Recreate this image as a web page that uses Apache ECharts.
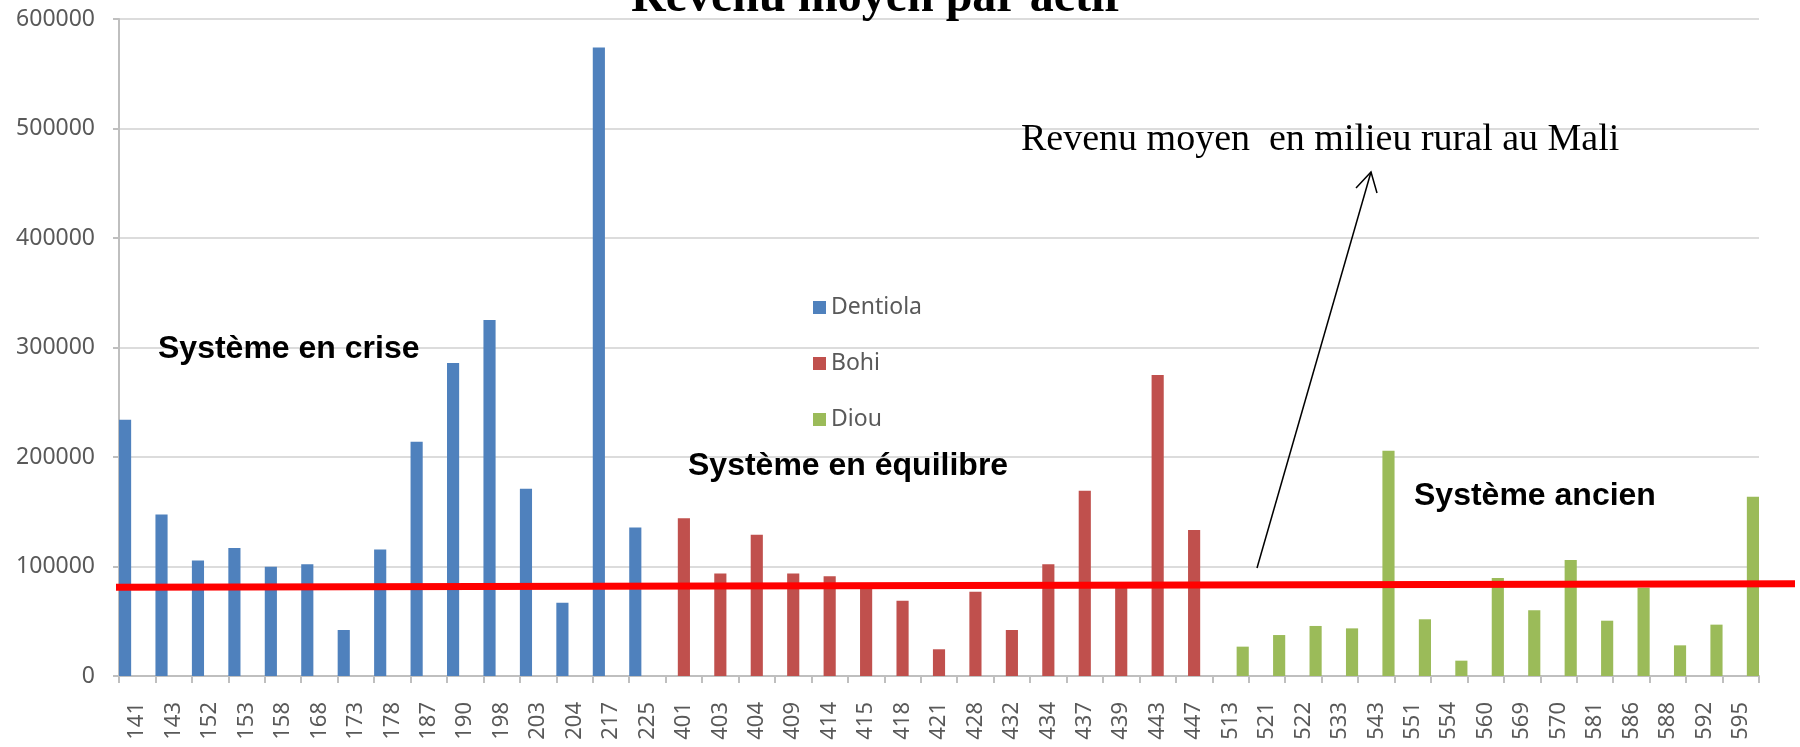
<!DOCTYPE html>
<html>
<head>
<meta charset="utf-8">
<script src="https://cdn.jsdelivr.net/npm/echarts@6/dist/echarts.min.js"></script>
<style>
html,body{margin:0;padding:0;background:#fff;}
#chart{width:1800px;height:747px;}
</style>
</head>
<body>
<div id="chart"></div>
<script>
// ---- data ----
var categories = ['141','143','152','153','158','168','173','178','187','190','198','203','204','217','225',
  '401','403','404','409','414','415','418','421','428','432','434','437','439','443','447',
  '513','521','522','533','543','551','554','560','569','570','581','586','588','592','595'];
var dentiolaCats = ['141','143','152','153','158','168','173','178','187','190','198','203','204','217','225'];
var dentiola = [234000,147600,105500,116800,99700,102000,42000,115500,214000,285800,325100,171000,67000,574000,135700];
var bohiCats = ['401','403','404','409','414','415','418','421','428','432','434','437','439','443','447'];
var bohi = [144000,93600,129000,93600,91200,83000,68800,24400,77000,42000,102000,169200,82000,275000,133300];
var diouCats = ['513','521','522','533','543','551','554','560','569','570','581','586','588','592','595'];
var diou = [26800,37400,45700,43500,205800,51800,14000,89500,60000,105900,50500,80600,28000,46900,163800];
var yTicks = [0,100000,200000,300000,400000,500000,600000];
var ruralLine = [81000, 84300]; // revenu moyen en milieu rural (left end, right end)

function fullSeries(cats, vals){
  return categories.map(function(c){
    var i = cats.indexOf(c);
    return i >= 0 ? vals[i] : '-';
  });
}

var labelColor = '#595959';
var chart = echarts.init(document.getElementById('chart'), null, {renderer:'canvas'});
var option = {
  animation: false,
  backgroundColor: '#ffffff',
  title: {
    text: 'Revenu moyen par actif',
    left: 631, top: -25, padding: 0,
    textStyle: {fontFamily: 'Liberation Serif', fontWeight: 'bold', fontSize: 48, color: '#000', lineHeight: 48}
  },
  legend: {
    orient: 'vertical',
    left: 813, top: 296, padding: 0,
    itemWidth: 13, itemHeight: 13, itemGap: 33,
    icon: 'rect',
    textStyle: {fontFamily: 'Noto Sans', fontSize: 23, color: labelColor, lineHeight: 23},
    data: ['Dentiola','Bohi','Diou']
  },
  grid: [
    {left: 119, right: 41, top: 19, bottom: 71},
    {left: 116, right: 5, top: 19, bottom: 71}
  ],
  xAxis: [
    {
      type: 'category', data: categories, gridIndex: 0,
      axisLine: {lineStyle: {color: '#bfbfbf', width: 2}},
      axisTick: {show: true, length: 7, lineStyle: {color: '#bfbfbf', width: 2}},
      axisLabel: {interval: 0, rotate: 90, margin: 26, fontFamily: 'Noto Sans', fontSize: 22, color: labelColor}
    },
    {type: 'value', gridIndex: 1, min: 0, max: 1, show: false}
  ],
  yAxis: [
    {
      type: 'value', gridIndex: 0, min: yTicks[0], max: yTicks[yTicks.length-1], interval: yTicks[1]-yTicks[0],
      axisLine: {show: true, lineStyle: {color: '#bfbfbf', width: 2}},
      axisTick: {show: true, length: 6, lineStyle: {color: '#bfbfbf', width: 2}},
      axisLabel: {margin: 24, fontFamily: 'Noto Sans', fontSize: 23, color: labelColor,
                  formatter: function(v){ return String(v); }},
      splitLine: {show: true, lineStyle: {color: '#dcdcdc', width: 2}}
    },
    {type: 'value', gridIndex: 1, min: yTicks[0], max: yTicks[yTicks.length-1], show: false}
  ],
  series: [
    {name: 'Dentiola', type: 'bar', xAxisIndex: 0, yAxisIndex: 0, barGap: '0%', barCategoryGap: '0%',
     itemStyle: {color: '#4F81BD'}, data: fullSeries(dentiolaCats, dentiola)},
    {name: 'Bohi', type: 'bar', xAxisIndex: 0, yAxisIndex: 0, barGap: '0%', barCategoryGap: '0%',
     itemStyle: {color: '#C0504D'}, data: fullSeries(bohiCats, bohi)},
    {name: 'Diou', type: 'bar', xAxisIndex: 0, yAxisIndex: 0, barGap: '0%', barCategoryGap: '0%',
     itemStyle: {color: '#9BBB59'}, data: fullSeries(diouCats, diou)},
    {name: 'rural', type: 'line', xAxisIndex: 1, yAxisIndex: 1, z: 10, symbol: 'none',
     lineStyle: {color: '#ff0000', width: 7}, silent: true,
     data: [[0, ruralLine[0]], [1, ruralLine[1]]]}
  ],
  graphic: [
    {type: 'text', left: 158, top: 333, z: 20,
     style: {text: 'Système en crise', font: 'bold 32px "Liberation Sans", Arial', fill: '#000'}},
    {type: 'text', left: 688, top: 450, z: 20,
     style: {text: 'Système en équilibre', font: 'bold 32px "Liberation Sans", Arial', fill: '#000'}},
    {type: 'text', left: 1414, top: 480, z: 20,
     style: {text: 'Système ancien', font: 'bold 32px "Liberation Sans", Arial', fill: '#000'}},
    {type: 'text', left: 1021, top: 121, z: 20,
     style: {text: 'Revenu moyen  en milieu rural au Mali', font: '38px "Liberation Serif", "Times New Roman"', fill: '#000'}},
    {type: 'polyline', z: 20, shape: {points: [[1257,568],[1371,172]]}, style: {stroke: '#000', lineWidth: 1.5, fill: null}},
    {type: 'polyline', z: 20, shape: {points: [[1356,188],[1371,172],[1377,193]]}, style: {stroke: '#000', lineWidth: 1.5, fill: null}}
  ]
};
chart.setOption(option);
</script>
</body>
</html>
